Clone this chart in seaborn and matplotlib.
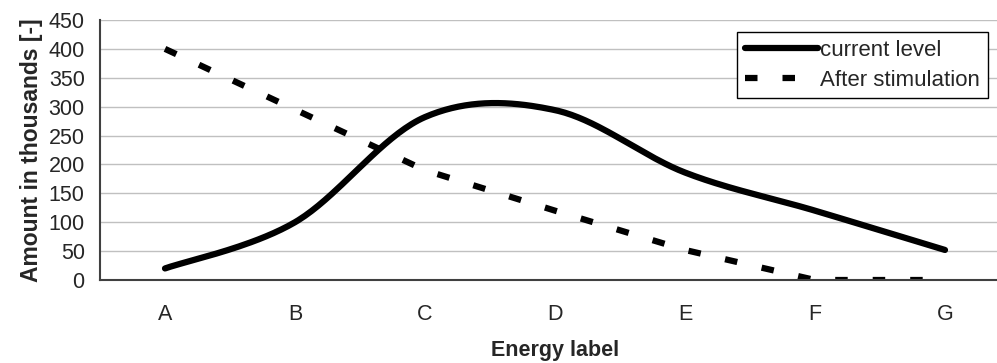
import numpy as np
import matplotlib
matplotlib.use("Agg")
import matplotlib.pyplot as plt
import seaborn as sns

# chart data (in thousands)
labels = ["A", "B", "C", "D", "E", "F", "G"]
current_level = [20, 100, 282, 294, 186, 120, 52]
after_stimulation = [400, 295, 190, 120, 52, 0, 0]


def smooth_line(xs, ys, steps=40):
    # Excel-style smoothed line: cubic bezier through the points
    xs = np.asarray(xs, float)
    ys = np.asarray(ys, float)
    px = np.concatenate([[xs[0]], xs, [xs[-1]]])
    py = np.concatenate([[ys[0]], ys, [ys[-1]]])
    t = np.linspace(0, 1, steps)
    out_x, out_y = [], []
    for i in range(1, len(px) - 2):
        p0 = np.array([px[i], py[i]])
        p3 = np.array([px[i + 1], py[i + 1]])
        c1 = p0 + (np.array([px[i + 1], py[i + 1]]) - np.array([px[i - 1], py[i - 1]])) / 6
        c2 = p3 - (np.array([px[i + 2], py[i + 2]]) - p0) / 6
        b = ((1 - t) ** 3)[:, None] * p0 + (3 * (1 - t) ** 2 * t)[:, None] * c1 \
            + (3 * (1 - t) * t ** 2)[:, None] * c2 + (t ** 3)[:, None] * p3
        out_x.extend(b[:, 0])
        out_y.extend(b[:, 1])
    return np.array(out_x), np.array(out_y)


sns.set_style("white")
plt.rcParams["font.family"] = ["Liberation Sans", "DejaVu Sans"]

fig = plt.figure(figsize=(9.97, 3.63), dpi=100)
ax = fig.add_axes([100 / 997, 83 / 363, 910 / 997, 260 / 363])

pos = np.arange(len(labels))
sx, sy = smooth_line(pos, current_level)
sns.lineplot(x=sx, y=sy, ax=ax, color="black", lw=4.5, sort=False,
             estimator=None, label="current level",
             solid_capstyle="round")
sns.lineplot(x=pos, y=after_stimulation, ax=ax, color="black", lw=4.5,
             sort=False, estimator=None, label="After stimulation",
             dashes=False, linestyle=(0, (2, 4)), dash_capstyle="butt")

ax.set_xlim(-0.5, len(labels) - 0.5)
ax.set_ylim(0, 450)
ax.set_yticks(range(0, 451, 50))
ax.set_xticks(pos)
ax.set_xticklabels(labels)
ax.set_xticks(np.arange(-0.5, len(labels), 1.0), minor=True)
ax.tick_params(axis="x", which="major", length=0, labelsize=15.5, pad=17)
ax.tick_params(axis="x", which="minor", length=6, width=1, color="#404040",
               direction="out")
ax.tick_params(axis="y", length=5, width=1, color="#404040", direction="out",
               labelsize=15.5, pad=6)

ax.grid(axis="y", color="#c0c0c0", lw=1)
ax.set_axisbelow(True)
for side in ["top", "right"]:
    ax.spines[side].set_visible(False)
for side in ["left", "bottom"]:
    ax.spines[side].set_color("#404040")
    ax.spines[side].set_linewidth(1.5)

ax.set_xlabel("Energy label", fontsize=15.5, fontweight="bold", labelpad=11)
ax.set_ylabel("Amount in thousands [-]", fontsize=16.5, fontweight="bold",
              labelpad=4)

leg = ax.legend(loc="upper right", bbox_to_anchor=(888 / 910, 248 / 260),
                borderaxespad=0, fontsize=16, handlelength=3.3,
                handletextpad=0.1, frameon=True, fancybox=False,
                framealpha=1, edgecolor="black", borderpad=0.35,
                labelspacing=0.4)
leg.get_frame().set_linewidth(1)

fig.savefig("out.png", dpi=100)
